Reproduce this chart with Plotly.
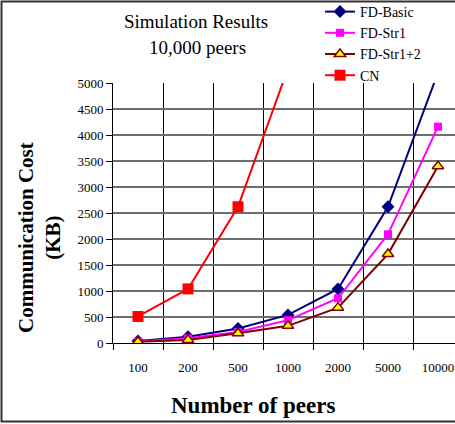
import plotly.graph_objects as go

categories = ["100", "200", "500", "1000", "2000", "5000", "10000"]
fd_basic = [40, 120, 280, 540, 1040, 2620, 5200]
fd_str1 = [30, 90, 210, 440, 860, 2090, 4160]
fd_str12 = [25, 60, 186, 330, 680, 1710, 3400]
cn = [510, 1040, 2620, 5280]
y_ticks = list(range(0, 5001, 500))

W, H = 455, 424
L, R, T, B = 113, 0, 83, 81
PW, PH = W - L - R, H - T - B

def px(x):
    return (x - L) / PW

def py(y):
    return (H - B - y) / PH

xi = list(range(len(categories)))
SERIF = "Liberation Serif, Times New Roman, serif"

fig = go.Figure()
fig.add_trace(go.Scatter(x=xi, y=fd_basic, name="FD-Basic", mode="lines+markers",
                         line=dict(color="#000080", width=2),
                         marker=dict(symbol="diamond", size=10, color="#000080")))
fig.add_trace(go.Scatter(x=xi, y=fd_str1, name="FD-Str1", mode="lines+markers",
                         line=dict(color="#FF00FF", width=2),
                         marker=dict(symbol="square", size=8, color="#FF00FF")))
fig.add_trace(go.Scatter(x=xi, y=fd_str12, name="FD-Str1+2", mode="lines+markers",
                         line=dict(color="#800000", width=2),
                         marker=dict(symbol="triangle-up", size=10, color="#FFFF00",
                                     line=dict(color="#800000", width=1.5))))
fig.add_trace(go.Scatter(x=xi[:len(cn)], y=cn, name="CN", mode="lines+markers",
                         line=dict(color="#FF0000", width=2),
                         marker=dict(symbol="square", size=11, color="#FF0000")))

bounds = [i - 0.5 for i in range(len(categories) + 1)]

fig.update_layout(
    width=W, height=H,
    margin=dict(l=L, r=R, t=T, b=B, autoexpand=False),
    paper_bgcolor="white", plot_bgcolor="white",
    font=dict(family=SERIF, color="black", size=13),
    showlegend=True,
    legend=dict(x=px(320), y=py(-4), xanchor="left", yanchor="top",
                font=dict(family=SERIF, size=14, color="black"),
                bgcolor="rgba(0,0,0,0)", borderwidth=0, tracegroupgap=0),
    xaxis=dict(range=[-0.5, -0.5 + (W - L) / 50.0],
               tickmode="array", tickvals=xi, ticktext=categories,
               ticks="", showgrid=False, zeroline=False,
               showline=True, linecolor="black", linewidth=1,
               ticklabelstandoff=12,
               tickfont=dict(family=SERIF, size=13),
               minor=dict(tickmode="array", tickvals=bounds, ticks="outside",
                          ticklen=6, tickcolor="black", showgrid=True,
                          gridcolor="black", gridwidth=1)),
    yaxis=dict(range=[0, 5000], tickmode="array", tickvals=y_ticks,
               ticks="outside", ticklen=6, tickcolor="black",
               showgrid=True, gridcolor="#6e6e6e", gridwidth=1.5,
               zeroline=False, showline=True, linecolor="black", linewidth=1,
               tickfont=dict(family=SERIF, size=13)),
    shapes=[dict(type="rect", xref="paper", yref="paper",
                 x0=px(1.5), x1=px(W + 20), y0=py(421.5), y1=py(1.5),
                 line=dict(color="#333333", width=2), fillcolor="rgba(0,0,0,0)",
                 layer="above")],
    annotations=[
        dict(text="Simulation Results", x=px(196), y=py(22), xref="paper", yref="paper",
             showarrow=False, xanchor="center", yanchor="middle",
             font=dict(family=SERIF, size=19)),
        dict(text="10,000 peers", x=px(197), y=py(47), xref="paper", yref="paper",
             showarrow=False, xanchor="center", yanchor="middle",
             font=dict(family=SERIF, size=19)),
        dict(text="<b>Communication Cost</b><br><b>(KB)</b>", x=px(39), y=py(238),
             xref="paper", yref="paper", showarrow=False, textangle=-90,
             xanchor="center", yanchor="middle",
             font=dict(family=SERIF, size=21)),
        dict(text="<b>Number of peers</b>", x=px(253), y=py(405), xref="paper", yref="paper",
             showarrow=False, xanchor="center", yanchor="middle",
             font=dict(family=SERIF, size=23)),
    ],
)

fig.write_html("out.html", config={"displayModeBar": False},
               post_script="document.body.style.margin='0px';document.body.style.overflow='hidden';")
